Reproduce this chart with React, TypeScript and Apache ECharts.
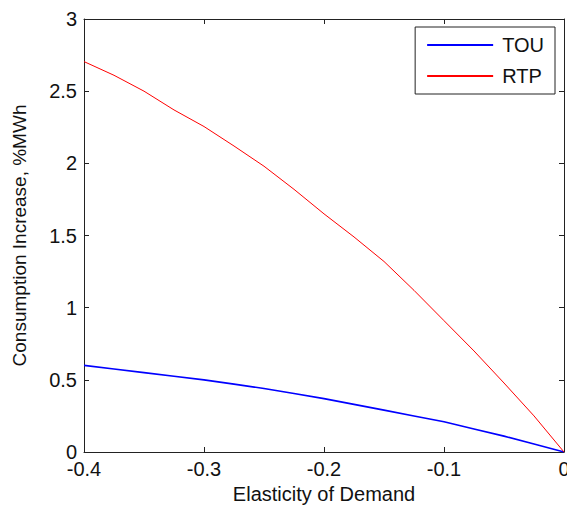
import React, { useEffect, useRef } from "react";
import * as echarts from "echarts";

const elasticity = [-0.4, -0.375, -0.35, -0.325, -0.3, -0.275, -0.25, -0.225, -0.2, -0.175, -0.15, -0.125, -0.1, -0.075, -0.05, -0.025, 0];
const touValues = [0.6, 0.575, 0.55, 0.525, 0.5, 0.47, 0.44, 0.405, 0.37, 0.33, 0.29, 0.25, 0.21, 0.16, 0.11, 0.055, 0];
const rtpValues = [2.705, 2.61, 2.5, 2.37, 2.255, 2.12, 1.98, 1.82, 1.65, 1.49, 1.32, 1.12, 0.91, 0.7, 0.478, 0.25, 0];
const seriesNames = ["TOU", "RTP"];
const xTitle = "Elasticity of Demand";
const yTitle = "Consumption Increase, %MWh";

const FONT = "'Liberation Sans', Arial, sans-serif";

export default function App() {
  const ref = useRef<HTMLDivElement>(null);
  useEffect(() => {
    if (!ref.current) return;
    const chart = echarts.init(ref.current, undefined, { renderer: "svg" });
    const axisLine = { show: true, onZero: false, lineStyle: { color: "#222", width: 1 } };
    const tick = { show: true, inside: true, length: 5, lineStyle: { color: "#222" } };
    chart.setOption({
      animation: false,
      backgroundColor: "#fff",
      textStyle: { fontFamily: FONT },
      grid: { left: 84, right: 3, top: 19, bottom: 59, containLabel: false, outerBoundsMode: "none" },
      legend: {
        show: true,
        right: 567 - 555,
        top: 27,
        orient: "vertical",
        backgroundColor: "#fff",
        borderColor: "#222",
        borderWidth: 1,
        borderRadius: 0,
        padding: [8, 11, 8, 12],
        itemGap: 11,
        itemWidth: 66,
        itemHeight: 2,
        icon: "rect",
        textStyle: { fontSize: 20, color: "#111", fontFamily: FONT, padding: [0, 0, 0, 4] },
        data: seriesNames,
      },
      xAxis: [
        {
          type: "value",
          min: -0.4,
          max: 0,
          interval: 0.1,
          name: xTitle,
          nameLocation: "middle",
          nameGap: 32,
          nameTextStyle: { fontSize: 20, color: "#111", fontFamily: FONT },
          axisLine,
          axisTick: tick,
          splitLine: { show: false },
          axisLabel: { fontSize: 20, color: "#111", margin: 7, fontFamily: FONT },
        },
        {
          type: "value",
          position: "top",
          min: -0.4,
          max: 0,
          interval: 0.1,
          axisLine,
          axisTick: tick,
          splitLine: { show: false },
          axisLabel: { show: false },
        },
      ],
      yAxis: [
        {
          type: "value",
          position: "left",
          min: 0,
          max: 3,
          interval: 0.5,
          name: yTitle,
          nameLocation: "middle",
          nameGap: 55,
          nameTextStyle: { fontSize: 19, color: "#111", fontFamily: FONT },
          axisLine,
          axisTick: tick,
          splitLine: { show: false },
          axisLabel: { fontSize: 20, color: "#111", margin: 7, fontFamily: FONT },
        },
        {
          type: "value",
          position: "right",
          min: 0,
          max: 3,
          interval: 0.5,
          axisLine,
          axisTick: tick,
          splitLine: { show: false },
          axisLabel: { show: false },
        },
      ],
      series: [
        {
          name: seriesNames[0],
          type: "line",
          data: elasticity.map((x, i) => [x, touValues[i]]),
          symbol: "none",
          lineStyle: { color: "#0000ff", width: 1.6 },
          itemStyle: { color: "#0000ff" },
          z: 3,
        },
        {
          name: seriesNames[1],
          type: "line",
          data: elasticity.map((x, i) => [x, rtpValues[i]]),
          symbol: "none",
          lineStyle: { color: "#ff0000", width: 1 },
          itemStyle: { color: "#ff0000" },
          z: 4,
        },
      ],
    });
    return () => chart.dispose();
  }, []);
  return <div ref={ref} style={{ position: "fixed", left: 0, top: 0, width: 567, height: 511 }} />;
}
